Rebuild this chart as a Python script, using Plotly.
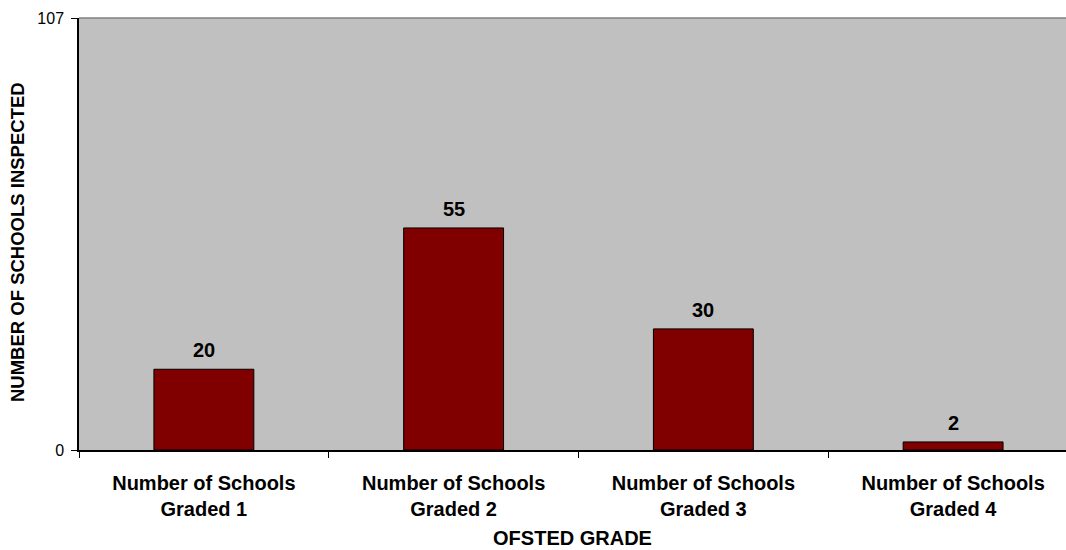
import plotly.graph_objects as go

categories = ["Number of Schools<br>Graded 1", "Number of Schools<br>Graded 2",
              "Number of Schools<br>Graded 3", "Number of Schools<br>Graded 4"]
values = [20, 55, 30, 2]
y_ticks = [0, 107]

FONT = "Liberation Sans, Arial, sans-serif"

fig = go.Figure(go.Bar(
    x=categories, y=values,
    marker=dict(color="#800000", line=dict(color="#000000", width=1)),
    hoverinfo="x+y",
))

for c, v in zip(categories, values):
    fig.add_annotation(x=c, y=v, text=f"<b>{v}</b>", showarrow=False,
                       yanchor="bottom", yshift=6,
                       font=dict(family=FONT, size=20, color="#000000"))

# y-axis title placed as a rotated annotation
fig.add_annotation(xref="paper", yref="paper", x=-0.063, y=0.481,
                   text="<b>NUMBER OF SCHOOLS INSPECTED</b>", textangle=-90,
                   showarrow=False, xanchor="center", yanchor="middle",
                   font=dict(family=FONT, size=18.5, color="#000000"))

fig.update_layout(
    width=1066, height=550,
    margin=dict(l=79, r=0, t=18, b=100),
    paper_bgcolor="#FFFFFF", plot_bgcolor="#C0C0C0",
    bargap=0.6, showlegend=False,
    font=dict(family=FONT, color="#000000"),
    shapes=[dict(type="line", xref="paper", yref="paper", x0=0, x1=1, y0=1, y1=1,
                 line=dict(color="#808080", width=1.5))],
)
fig.update_xaxes(
    range=[-0.5, 3.452],
    showline=True, linecolor="#000000", linewidth=1.5,
    ticks="outside", tickson="boundaries", ticklen=6, tickcolor="#000000",
    ticklabelstandoff=14,
    tickfont=dict(family=FONT, size=20, color="#000000", weight="bold"),
    title=dict(text="<b>OFSTED GRADE</b>", font=dict(family=FONT, size=20), standoff=12),
    showgrid=False,
)
fig.update_yaxes(
    range=[0, 107], tickvals=y_ticks, ticktext=[str(t) for t in y_ticks],
    showline=True, linecolor="#000000", linewidth=1.5,
    ticks="outside", ticklen=6, tickcolor="#000000",
    ticklabelstandoff=4,
    tickfont=dict(family=FONT, size=16, color="#000000"),
    showgrid=False, zeroline=False, automargin=False,
)

fig.write_html("out.html", config={"displayModeBar": False},
               post_script="document.body.style.margin='0';document.body.style.overflow='hidden';")
